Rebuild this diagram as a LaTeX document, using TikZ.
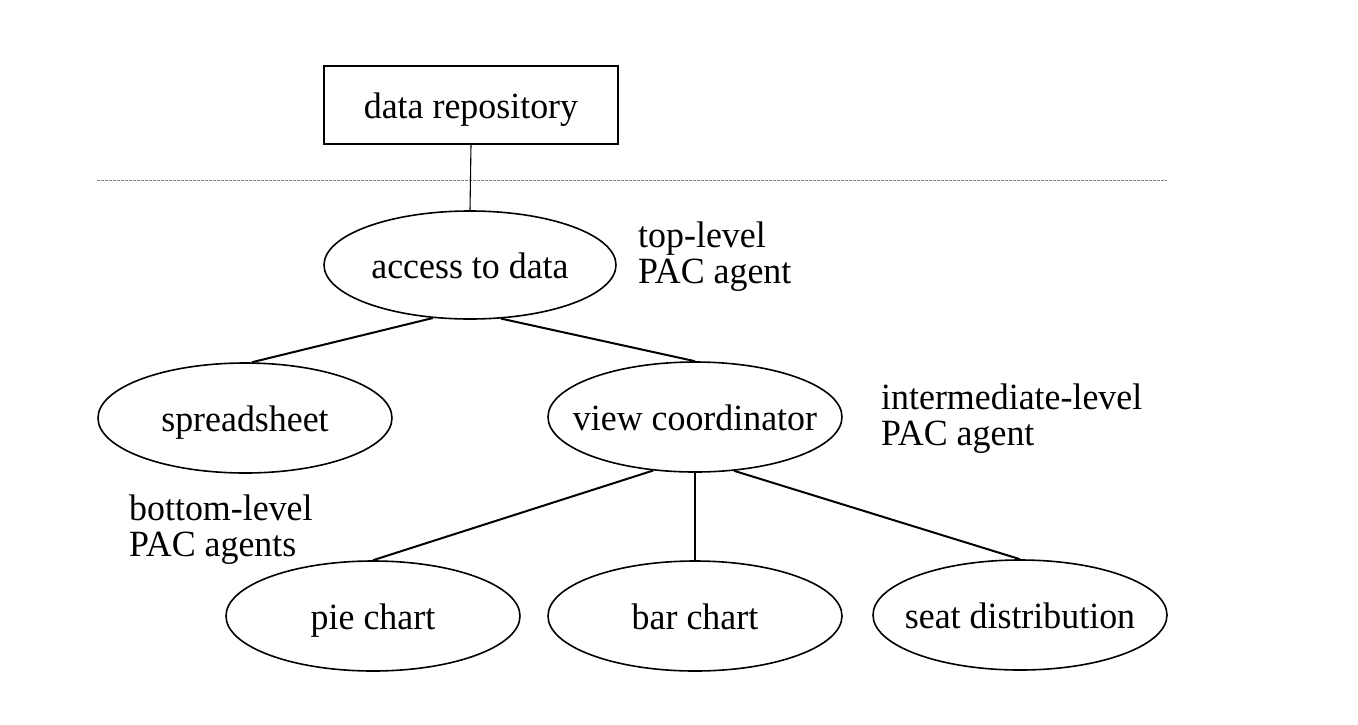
\documentclass[tikz,border=0pt]{standalone}
\usepackage{fontspec}
\setmainfont{Liberation Serif}[FakeStretch=0.97]
\usetikzlibrary{shapes.geometric}
\newcommand{\nodetext}[1]{\makebox[0pt][c]{#1}}
\begin{document}
\begin{tikzpicture}[x=1pt,y=-1pt,
  every node/.style={font=\fontsize{37}{36}\selectfont, inner sep=0pt},
  agent/.style={ellipse, draw, line width=1.6pt, minimum width=294pt, minimum height=110pt, text height=26pt, text depth=0pt},
  repo/.style={rectangle, draw, line width=1.6pt, minimum width=294pt, minimum height=78pt, text height=26pt, text depth=0pt},
  link/.style={line width=2pt},
  thinlink/.style={line width=1.1pt},
  levelnote/.style={anchor=base west, align=left},
  sep/.style={line width=1pt, gray, dash pattern=on 2.5pt off 1.5pt}]
\useasboundingbox (0,0) rectangle (1358,724);
\node[repo] (repo) at (471,105) {\nodetext{data repository}};
\node[agent, minimum width=292pt, minimum height=108pt] (acc) at (470,265) {\nodetext{access to data}};
\node[agent] (spread) at (245,418) {\nodetext{spreadsheet}};
\node[agent] (vc) at (695,417) {\nodetext{view coordinator}};
\node[agent] (pie) at (373,616) {\nodetext{pie chart}};
\node[agent] (bar) at (695,616) {\nodetext{bar chart}};
\node[agent] (seat) at (1020,615) {\nodetext{seat distribution}};
\coordinate (sepL) at (97,180);
\coordinate (sepR) at (1167,180);
\draw[sep] (sepL) -- (sepR);
\draw[thinlink] (repo.south) -- (acc.north);
\draw[link] (acc.-125) -- (spread.83);
\draw[link] (acc.-60) -- (vc.north);
\draw[link] (vc.-128) -- (pie.north);
\draw[thinlink] (vc.south) -- (bar.north);
\draw[link] (vc.-54) -- (seat.north);
\node[levelnote] (topnote) at (638,283) {top-level\\PAC agent};
\node[levelnote] (midnote) at (881,445) {intermediate-level\\PAC agent};
\node[levelnote] (botnote) at (129,556) {bottom-level\\PAC agents};
\end{tikzpicture}
\end{document}
